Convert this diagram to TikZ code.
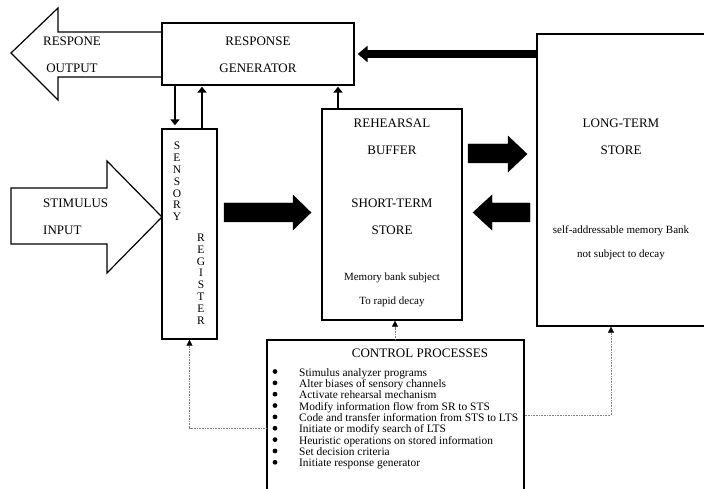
\documentclass[tikz,border=0pt]{standalone}
\usepackage{fontspec}
\setmainfont{Liberation Serif}
\usetikzlibrary{arrows.meta}
\begin{document}
\begin{tikzpicture}[x=1pt,y=-1pt,
  box/.style={draw, line width=1.3pt, inner sep=0pt},
  blk/.style={fill=black, draw=black, line width=0.4pt},
  hollow/.style={draw=black, fill=white, line width=1.2pt, line join=miter},
  thinarrow/.style={line width=2.6pt, -{Triangle[width=9pt,length=6pt]}},
  ctrl/.style={draw=gray, densely dotted, line width=0.6pt, -{Triangle[width=6pt,length=6pt,black]}},
  big/.style={font=\fontsize{13}{27}\selectfont, align=center, inner sep=0pt},
  small/.style={font=\fontsize{11}{23.5}\selectfont, align=center, inner sep=0pt},
  vert/.style={font=\fontsize{11.5}{11.8}\selectfont, align=center, inner sep=0pt},
]
\useasboundingbox (0,0) rectangle (704,489);
\clip (0,0) rectangle (704,489);

% hollow arrows
\draw[hollow] (162,32) -- (58,32) -- (58,8) -- (11,53) -- (58,100) -- (58,77) -- (162,77);
\draw[hollow] (162,217) -- (107,161) -- (107,188) -- (11,188) -- (11,244) -- (107,244) -- (107,273) -- cycle;

% boxes
\node[box, minimum width=192pt, minimum height=62pt] (rg) at (258,54) {};
\node[box, minimum width=55pt, minimum height=210pt] (sr) at (189.5,234) {};
\node[box, minimum width=140pt, minimum height=211pt] (sts) at (392,214.5) {};
\node[box, minimum width=172pt, minimum height=292pt] (lts) at (623,180) {};
\node[box, fill=white, minimum width=257pt, minimum height=160pt] (cp) at (395.5,420) {};

% texts
\node[big] (outtxt) at (72,55) {RESPONE\\OUTPUT};
\node[big] (rgtxt) at (258,55) {RESPONSE\\GENERATOR};
\node[big, align=left, anchor=west] (stimtxt) at (43,217) {STIMULUS\\INPUT};
\node[vert] (srtxt1) at (177,181.5) {S\\E\\N\\S\\O\\R\\Y};
\node[vert] (srtxt2) at (201,279) {R\\E\\G\\I\\S\\T\\E\\R};
\node[big] (ststxt1) at (392,136.5) {REHEARSAL\\BUFFER};
\node[big] (ststxt2) at (392,217) {SHORT-TERM\\STORE};
\node[small, font=\fontsize{11}{24}\selectfont] (ststxt3) at (392,289.5) {Memory bank subject\\To rapid decay};
\node[big] (ltstxt1) at (621,136.5) {LONG-TERM\\STORE};
\node[small] (ltstxt2) at (621,243) {self-addressable memory Bank\\not subject to decay};

\node[anchor=base, inner sep=0pt, font=\fontsize{13}{15}\selectfont] (cptitle) at (420,357.5) {CONTROL PROCESSES};
\foreach \t [count=\i] in {Stimulus analyzer programs, Alter biases of sensory channels, Activate rehearsal mechanism, Modify information flow from SR to STS, Code and transfer information from STS to LTS, Initiate or modify search of LTS, Heuristic operations on stored information, Set decision criteria, Initiate response generator} {
  \node[anchor=base west, inner sep=0pt, font=\fontsize{11.4}{13}\selectfont] (it\i) at (299,{376+11.35*(\i-1)}) {\t};
  \fill (275,{371.5+11.35*(\i-1)}) circle (2.4pt);
}

% black block arrows
\fill[blk] (224,203) -- (293,203) -- (293,195) -- (311,212.5) -- (293,230) -- (293,222) -- (224,222) -- cycle;
\fill[blk] (468,144) -- (508,144) -- (508,136) -- (527,154) -- (508,172) -- (508,163) -- (468,163) -- cycle;
\fill[blk] (530,203) -- (492,203) -- (492,195) -- (473,212.5) -- (492,230) -- (492,222) -- (530,222) -- cycle;

% thick connectors
\draw[line width=8pt, -{Triangle[width=16pt,length=10pt]}] (lts.west |- rg.east) -- ([xshift=3pt]rg.east);
\coordinate (c1) at (175,0);
\coordinate (c2) at (202,0);
\coordinate (c3) at (338,0);
\draw[thinarrow, shorten >=3pt] (rg.south -| c1) -- (sr.north -| c1);
\draw[thinarrow, shorten >=1pt] (sr.north -| c2) -- (rg.south -| c2);
\draw[thinarrow, shorten >=1pt] (sts.north -| c3) -- (rg.south -| c3);

% control connectors
\coordinate (c4) at (395,0);
\coordinate (c5) at (0,428);
\coordinate (c6) at (0,415);
\coordinate (c7) at (611,0);
\draw[ctrl] (cp.west |- c5) -| (sr.south);
\draw[ctrl] (cp.north -| c4) -- (sts.south -| c4);
\draw[ctrl] (cp.east |- c6) -| (lts.south -| c7);
\end{tikzpicture}
\end{document}
